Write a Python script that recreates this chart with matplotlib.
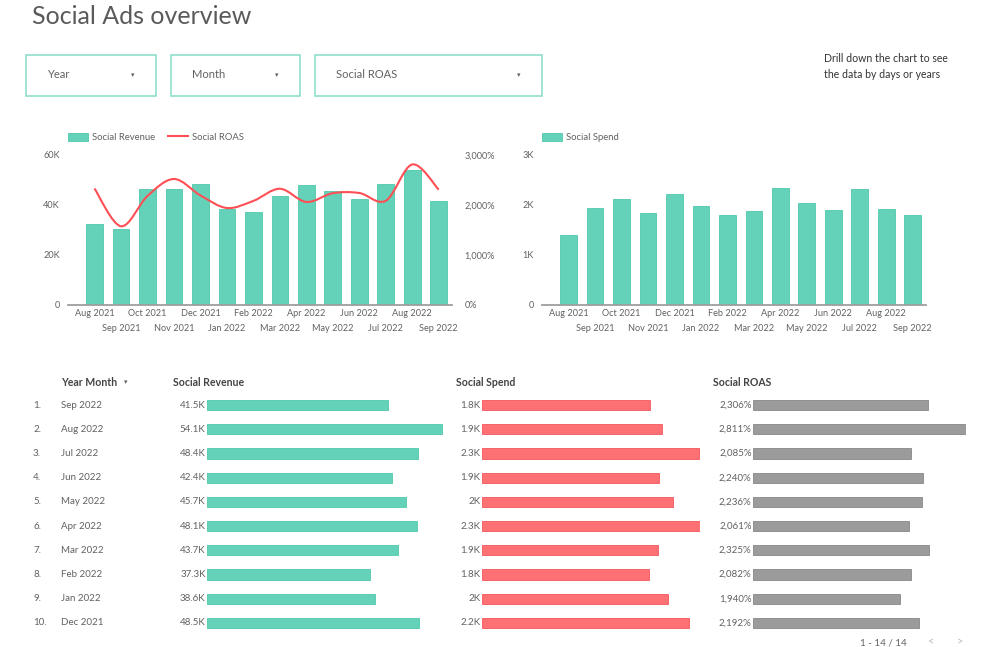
import matplotlib
matplotlib.use('Agg')
import matplotlib.pyplot as plt
from matplotlib.patches import Rectangle, PathPatch
from matplotlib.path import Path
import numpy as np

plt.rcParams['font.family'] = ['Lato', 'DejaVu Sans']

# data
months = ['Aug 2021', 'Sep 2021', 'Oct 2021', 'Nov 2021', 'Dec 2021', 'Jan 2022', 'Feb 2022',
          'Mar 2022', 'Apr 2022', 'May 2022', 'Jun 2022', 'Jul 2022', 'Aug 2022', 'Sep 2022']
revenue_k = [32.5, 30.6, 46.4, 46.4, 48.5, 38.6, 37.3, 43.7, 48.1, 45.7, 42.4, 48.4, 54.1, 41.5]
spend_k = [1.40, 1.95, 2.13, 1.84, 2.213, 1.99, 1.792, 1.88, 2.334, 2.044, 1.893, 2.321, 1.925, 1.80]
roas_pct = [2330, 1575, 2180, 2520, 2192, 1940, 2082, 2325, 2061, 2236, 2240, 2085, 2811, 2306]

rev_ticks = [0, 20, 40, 60]
rev_ticklabels = ['0', '20K', '40K', '60K']
roas_ticks = [0, 1000, 2000, 3000]
roas_ticklabels = ['0%', '1,000%', '2,000%', '3,000%']
spend_ticks = [0, 1, 2, 3]
spend_ticklabels = ['0', '1K', '2K', '3K']

TEAL = '#63d2b8'
TEAL_EDGE = '#4fc8aa'
RED = '#fd7174'
RED_LINE = '#ff4f55'
GRAY_BAR = '#9b9b9b'
TXT = '#616161'

W, H = 1000, 647
fig = plt.figure(figsize=(W / 100, H / 100), dpi=100)


def box(l, t, r, b):
    return [l / W, 1 - b / H, (r - l) / W, (b - t) / H]


# background layer for headings, dropdowns
ax0 = fig.add_axes([0, 0, 1, 1])
ax0.set_xlim(0, W)
ax0.set_ylim(H, 0)
ax0.axis('off')

ax0.text(32, 17, 'Social Ads overview', fontsize=18, color='#5a5a5a', va='center', ha='left')

dropdowns = [('Year', 26, 156), ('Month', 171, 300), ('Social ROAS', 315, 542)]
for name, l, r in dropdowns:
    ax0.add_patch(Rectangle((l, 55), r - l, 41, fill=False, ec='#86dcc7', lw=1.1))
    ax0.text(l + 21, 75, name, fontsize=8, color=TXT, va='center')
    ax0.text(r - 23, 75, '▾', fontsize=5, color=TXT, va='center', ha='center')

ax0.text(824, 59, 'Drill down the chart to see', fontsize=7.6, color='#333333', va='center')
ax0.text(824, 74, 'the data by days or years', fontsize=7.6, color='#333333', va='center')


def style_chart(ax):
    for s in ['top', 'right', 'left']:
        ax.spines[s].set_visible(False)
    ax.spines['bottom'].set_color('#9e9e9e')
    ax.spines['bottom'].set_linewidth(1.3)
    ax.tick_params(which='both', length=0, labelsize=6.6, labelcolor=TXT)
    ax.set_xlim(-1, len(months) - 0.5)
    idx = np.arange(len(months))
    ax.set_xticks(idx[::2], [months[i] for i in idx[::2]])
    ax.set_xticks(idx[1::2], [months[i] for i in idx[1::2]], minor=True)
    ax.tick_params(axis='x', which='major', pad=3)
    ax.tick_params(axis='x', which='minor', pad=14)
    ax.tick_params(axis='y', pad=6)


x = np.arange(len(months))

# revenue + roas chart
ax1 = fig.add_axes(box(68, 155, 452, 305))
b1 = ax1.bar(x, revenue_k, width=0.63, color=TEAL, edgecolor=TEAL_EDGE, lw=0.6, zorder=2)
ax1.set_ylim(0, 60)
ax1.set_yticks(rev_ticks)
ax1.set_yticklabels(rev_ticklabels)
style_chart(ax1)

ax1b = ax1.twinx()
ax1b.set_ylim(0, 3000)
ax1b.set_yticks(roas_ticks)
ax1b.set_yticklabels(roas_ticklabels)
for s in ['top', 'right', 'left', 'bottom']:
    ax1b.spines[s].set_visible(False)
ax1b.tick_params(length=0, labelsize=6.6, labelcolor=TXT, pad=9)

# smooth curve through points (catmull-rom -> bezier)
pts = np.column_stack([x, roas_pct]).astype(float)
verts = [tuple(pts[0])]
codes = [Path.MOVETO]
for i in range(len(pts) - 1):
    p0 = pts[i - 1] if i > 0 else pts[i]
    p1, p2 = pts[i], pts[i + 1]
    p3 = pts[i + 2] if i + 2 < len(pts) else pts[i + 1]
    c1 = p1 + (p2 - p0) / 6
    c2 = p2 - (p3 - p1) / 6
    verts += [tuple(c1), tuple(c2), tuple(p2)]
    codes += [Path.CURVE4] * 3
ax1b.add_patch(PathPatch(Path(verts, codes), fill=False, ec=RED_LINE, lw=1.5, zorder=3))
line_handle, = ax1b.plot([], [], color=RED_LINE, lw=1.5)

ax1.legend([b1, line_handle], ['Social Revenue', 'Social ROAS'], loc='lower left',
           bbox_to_anchor=(-0.01, 1.06), ncol=2, frameon=False, fontsize=6.8,
           labelcolor=TXT, handlelength=2.1, handleheight=1.0, columnspacing=1.3,
           handletextpad=0.5, borderaxespad=0)

# spend chart
ax2 = fig.add_axes(box(542, 155, 926, 305))
b2 = ax2.bar(x, spend_k, width=0.63, color=TEAL, edgecolor=TEAL_EDGE, lw=0.6, zorder=2)
ax2.set_ylim(0, 3)
ax2.set_yticks(spend_ticks)
ax2.set_yticklabels(spend_ticklabels)
style_chart(ax2)
ax2.legend([b2], ['Social Spend'], loc='lower left', bbox_to_anchor=(-0.01, 1.06),
           frameon=False, fontsize=6.8, labelcolor=TXT, handlelength=2.1,
           handleheight=1.0, handletextpad=0.5, borderaxespad=0)

# table: last 10 months, newest first
order = list(range(len(months) - 1, len(months) - 11, -1))
tab_months = [months[i] for i in order]
tab_rev = [revenue_k[i] for i in order]
tab_spend = [spend_k[i] for i in order]
tab_roas = [roas_pct[i] for i in order]
rows = np.arange(len(order))
row_top, row_h = 393, 24.2
row_bottom = row_top + row_h * len(order)


def fmt_k(v):
    s = f'{v:.1f}'
    if s.endswith('.0'):
        s = s[:-2]
    return s + 'K'


header_y = 382
ax0.text(61, header_y, 'Year Month', fontsize=7.6, fontweight='bold', color='#444444', va='center')
ax0.text(126, header_y, '▾', fontsize=5, color=TXT, va='center', ha='center')
ax0.text(173, header_y, 'Social Revenue', fontsize=7.6, fontweight='bold', color='#444444', va='center')
ax0.text(456, header_y, 'Social Spend', fontsize=7.6, fontweight='bold', color='#444444', va='center')
ax0.text(713, header_y, 'Social ROAS', fontsize=7.6, fontweight='bold', color='#444444', va='center')

for i, m in enumerate(tab_months):
    yy = row_top + row_h * (i + 0.5)
    ax0.text(33, yy, f'{i + 1}.', fontsize=7, color=TXT, va='center')
    ax0.text(61, yy, m, fontsize=7, color=TXT, va='center')

cols = [
    (207, 443, tab_rev, [f'{v:.1f}K' for v in tab_rev], TEAL, TEAL_EDGE),
    (482, 700, tab_spend, [fmt_k(v) for v in tab_spend], RED, '#f4575c'),
    (753, 966, tab_roas, [f'{v:,}%' for v in tab_roas], GRAY_BAR, '#878787'),
]
for l, r, vals, labels, col, ec in cols:
    ax = fig.add_axes(box(l, row_top, r, row_bottom))
    ax.barh(rows, vals, height=0.42, color=col, edgecolor=ec, lw=0.6)
    ax.set_xlim(0, max(vals))
    ax.set_ylim(len(rows) - 0.5, -0.5)
    ax.axis('off')
    for i, lab in enumerate(labels):
        ax.annotate(lab, (0, i), xytext=(-1, 0), textcoords='offset points',
                    ha='right', va='center', fontsize=7, color=TXT, annotation_clip=False)

ax0.text(907, 643, '1 - 14 / 14', fontsize=7, color=TXT, va='center', ha='right')
ax0.text(930, 642, '<', fontsize=8, color='#bbbbbb', va='center', ha='center')
ax0.text(960, 642, '>', fontsize=8, color='#bbbbbb', va='center', ha='center')

fig.savefig('out.png', dpi=100, facecolor='white')
